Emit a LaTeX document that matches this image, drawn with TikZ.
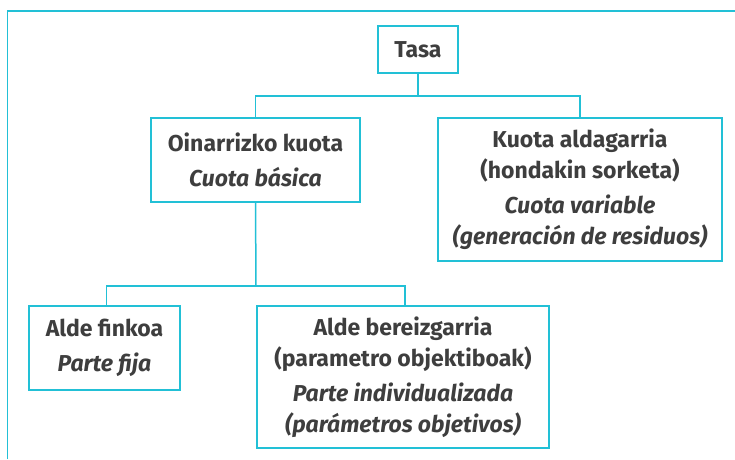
\documentclass[tikz,border=0pt]{standalone}
\usepackage{fontspec}
\setmainfont{Fira Sans}
\usetikzlibrary{positioning}
\definecolor{frame}{HTML}{22C0D6}
\definecolor{ink}{HTML}{3E3E3E}
\begin{document}
\begin{tikzpicture}[x=1pt,y=-1pt,
  box/.style={draw=frame,line width=1.5pt,fill=white,align=center,inner sep=0pt,
    text=ink,font=\fontsize{23}{31}\selectfont\bfseries},
  link/.style={draw=frame,line width=1.5pt}]
\useasboundingbox (0,0) rectangle (735,459);
\draw[link] (7.5,459) -- (7.5,11) -- (735,11);
\node[box,minimum width=80pt,minimum height=47pt] (tasa) at (418,49.5) {Tasa};
\node[box,minimum width=209pt,minimum height=84pt] (oin) at (255.5,160) {Oinarrizko kuota\\[4pt]\itshape Cuota básica};
\node[box,minimum width=284pt,minimum height=143pt] (kuota) at (580,189.5) {Kuota aldagarria\\(hondakin sorketa)\\[4pt]\itshape Cuota variable\\\itshape (generación de residuos)};
\node[box,minimum width=151pt,minimum height=84pt] (finko) at (104.5,348) {Alde finkoa\\[4pt]\itshape Parte fija};
\node[box,minimum width=292pt,minimum height=142pt] (bereiz) at (403,377) {Alde bereizgarria\\(parametro objektiboak)\\[4pt]\itshape Parte individualizada\\\itshape (parámetros objetivos)};
\coordinate (j1) at (418,96);
\coordinate (j2) at (256,286);
\draw[link] (tasa.south) -- (j1);
\draw[link] (oin.north) |- (j1) -| (kuota.north);
\draw[link] (oin.south) -- (j2);
\draw[link] ([xshift=2pt]finko.north) |- (j2) -| ([xshift=2pt]bereiz.north);
\end{tikzpicture}
\end{document}
